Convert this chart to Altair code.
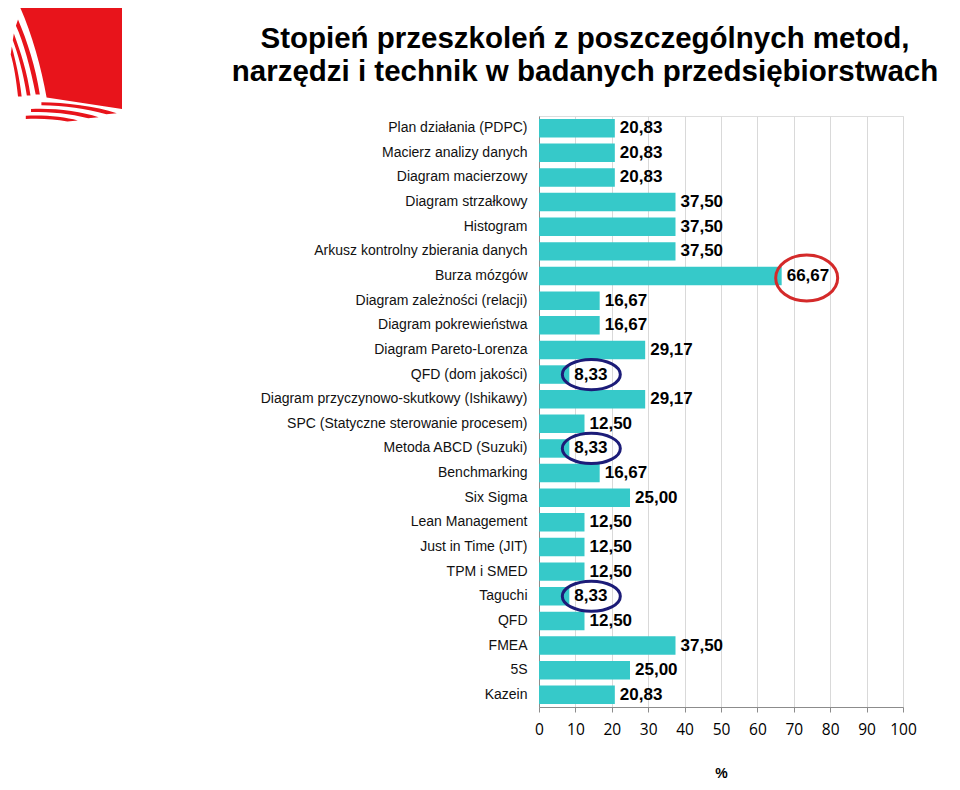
import altair as alt
import pandas as pd

categories = [
    "Plan działania (PDPC)",
    "Macierz analizy danych",
    "Diagram macierzowy",
    "Diagram strzałkowy",
    "Histogram",
    "Arkusz kontrolny zbierania danych",
    "Burza mózgów",
    "Diagram zależności (relacji)",
    "Diagram pokrewieństwa",
    "Diagram Pareto-Lorenza",
    "QFD (dom jakości)",
    "Diagram przyczynowo-skutkowy (Ishikawy)",
    "SPC (Statyczne sterowanie procesem)",
    "Metoda ABCD (Suzuki)",
    "Benchmarking",
    "Six Sigma",
    "Lean Management",
    "Just in Time (JIT)",
    "TPM i SMED",
    "Taguchi",
    "QFD",
    "FMEA",
    "5S",
    "Kazein",
]
values = [20.83, 20.83, 20.83, 37.50, 37.50, 37.50, 66.67, 16.67, 16.67, 29.17,
          8.33, 29.17, 12.50, 8.33, 16.67, 25.00, 12.50, 12.50, 12.50, 8.33,
          12.50, 37.50, 25.00, 20.83]
x_ticks = [0, 10, 20, 30, 40, 50, 60, 70, 80, 90, 100]
# highlighted labels: blue = lowest, red = highest
blue_marked = ["QFD (dom jakości)", "Metoda ABCD (Suzuki)", "Taguchi"]
red_marked = ["Burza mózgów"]

title_lines = ["Stopień przeszkoleń z poszczególnych metod,",
               "narzędzi i technik w badanych przedsiębiorstwach"]

df = pd.DataFrame({"cat": categories, "val": values})
df["label"] = [f"{v:.2f}".replace(".", ",") for v in values]
df_blue = df[df["cat"].isin(blue_marked)]
df_red = df[df["cat"].isin(red_marked)]

W, H = 364, 591

x_enc = alt.X("val:Q", scale=alt.Scale(domain=[0, 100], nice=False),
              axis=alt.Axis(values=x_ticks, tickCount=len(x_ticks) + 2, title="%",
                            titleFontSize=14, titleFontWeight="bold",
                            titleFont="Liberation Sans", titleColor="#000000",
                            titlePadding=29,
                            labelFont="Open Sans", labelFontSize=15.5, labelColor="#000000",
                            labelPadding=10, tickSize=5, tickColor="#8c8c8c",
                            labelOverlap=False, labelFlush=False,
                            domainColor="#8c8c8c", grid=True, gridColor="#d9d9d9"))
y_enc = alt.Y("cat:N", sort=categories,
              scale=alt.Scale(paddingInner=0.25, paddingOuter=0.12),
              axis=alt.Axis(title=None, ticks=False, labelPadding=12,
                            labelFont="Liberation Sans", labelFontSize=14,
                            labelColor="#111111", domainColor="#8c8c8c", grid=False,
                            labelLimit=400))

bars = alt.Chart(df).mark_bar(color="#36C9C9").encode(x=x_enc, y=y_enc)

labels = alt.Chart(df).mark_text(
    align="left", baseline="middle", dx=5, font="Liberation Sans",
    fontWeight="bold", fontSize=17, color="#000000"
).encode(x=x_enc, y=y_enc, text="label:N")

ellipse_blue = "M -1 0 A 1 0.52 0 1 0 1 0 A 1 0.52 0 1 0 -1 0 Z"
ellipse_red = "M -1 0 A 1 0.74 0 1 0 1 0 A 1 0.74 0 1 0 -1 0 Z"

blue = alt.Chart(df_blue).mark_point(
    shape=ellipse_blue, size=58 * 58, filled=False, stroke="#1c1c78",
    strokeWidth=3, opacity=1, xOffset=22
).encode(x=x_enc, y=y_enc)

red = alt.Chart(df_red).mark_point(
    shape=ellipse_red, size=62 * 62, filled=False, stroke="#d42a2a",
    strokeWidth=3, opacity=1, xOffset=25, yOffset=2
).encode(x=x_enc, y=y_enc)

# decorative logo (top-left)
logo_path = ("M -0.98 -1 L 1 -1 L 1 1 L -0.45 0.78 C -0.55 0.2 -0.75 -0.5 -0.98 -1 Z "
             "M -1.0 -0.72 C -0.82 -0.3 -0.66 0.2 -0.58 0.72 L -0.66 0.72 "
             "C -0.76 0.2 -0.9 -0.3 -1.04 -0.6 Z "
             "M -1.08 -0.45 C -0.95 -0.1 -0.82 0.3 -0.76 0.74 L -0.83 0.74 "
             "C -0.9 0.3 -1.0 -0.05 -1.1 -0.32 Z "
             "M -1.12 -0.2 C -1.04 0.1 -0.97 0.4 -0.93 0.76 L -1.0 0.76 "
             "C -1.03 0.45 -1.08 0.15 -1.14 -0.05 Z "
             "M -0.55 0.87 C -0.1 0.87 0.5 0.95 0.9 1.08 L 0.7 1.1 "
             "C 0.3 1.0 -0.1 0.93 -0.55 0.93 Z "
             "M -0.75 1.0 C -0.3 0.98 0.2 1.04 0.55 1.16 L 0.35 1.18 "
             "C 0.0 1.09 -0.35 1.06 -0.75 1.06 Z "
             "M -0.85 1.13 C -0.5 1.11 -0.1 1.15 0.15 1.22 L -0.05 1.24 "
             "C -0.3 1.19 -0.55 1.18 -0.85 1.19 Z")
logo = alt.Chart(pd.DataFrame({"k": [0]})).mark_point(
    shape=logo_path, size=104 * 104, filled=True, color="#E8141B", opacity=1,
    strokeWidth=0
).encode(x=alt.value(-469), y=alt.value(-59))

chart = alt.layer(bars, labels, blue, red, logo).properties(
    width=W, height=H,
    title=alt.TitleParams(
        text=title_lines, fontSize=29.5, font="Liberation Sans", fontWeight="bold",
        color="#000000", anchor="middle", dx=-136, dy=112, offset=30, lineHeight=33
    ),
    autosize=alt.AutoSizeParams(type="none"),
    padding={"left": 531, "top": 108, "right": 40, "bottom": 74},
).configure_view(stroke=None).configure(background="#ffffff")

chart.save("out.html", embed_options={"renderer": "svg", "actions": False})
